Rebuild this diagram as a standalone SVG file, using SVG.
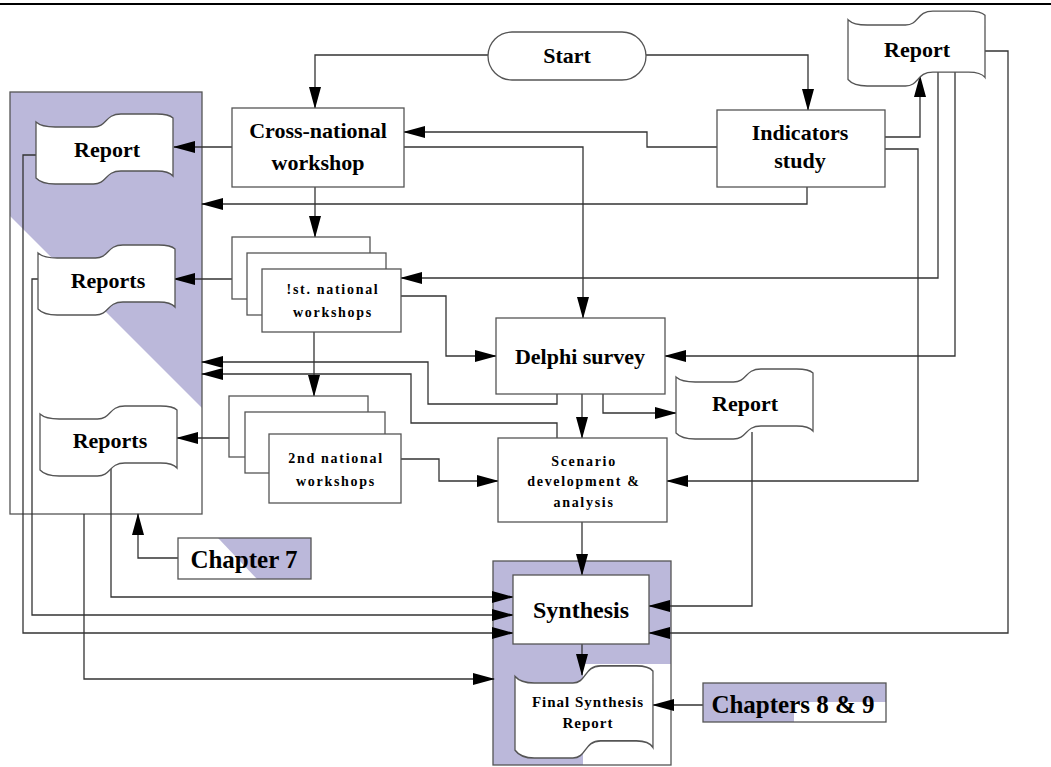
<svg xmlns="http://www.w3.org/2000/svg" width="1051" height="767" viewBox="0 0 1051 767">
<defs>
<style>
.ln{fill:none;stroke:#333;stroke-width:1.3}
.bx{fill:#fff;stroke:#555;stroke-width:1.3}
.ol{fill:none;stroke:#555;stroke-width:1.3}
.pu{fill:#bbb8da}
.doc{fill:#fff;stroke:#555;stroke-width:1.3;vector-effect:non-scaling-stroke}
.t{font-family:"Liberation Serif","Times New Roman",serif;font-weight:bold;fill:#000;text-anchor:middle}
.big{font-size:22px}
.sm{font-size:14px;letter-spacing:1.7px}
.fs{font-size:15px;letter-spacing:1px}
</style>
<marker id="ah" viewBox="0 0 22 12" markerWidth="22" markerHeight="12" refX="21" refY="6" orient="auto" markerUnits="userSpaceOnUse"><path d="M0,0L22,6L0,12z" fill="#000"/></marker>
<path id="tape" d="M0,-5 Q5.5,0 19.2,0 L57.5,0 C71.2,0 68.5,-13 84.9,-13 L120.6,-13 Q132.9,-13 137,-9 L137,49 Q132.9,44 120.6,44 L84.9,44 C68.5,44 71.2,57 57.5,57 L19.2,57 Q5.5,57 0,51 Z"/>
</defs>
<rect width="1051" height="767" fill="#fff"/>
<line x1="0" y1="4" x2="1051" y2="4" stroke="#000" stroke-width="2"/>

<g id="panel-left">
<rect x="10" y="92" width="192" height="422" fill="#fff"/>
<polygon class="pu" points="10,92 202,92 202,408 10,216"/>
<rect class="ol" x="10" y="92" width="192" height="422"/>
</g>
<g id="panel-synthesis">
<rect class="pu" x="493" y="561" width="178" height="204"/>
<rect x="583" y="664" width="88" height="101" fill="#fff"/>
<rect class="ol" x="493" y="561" width="178" height="204"/>
</g>

<g id="connectors" class="ln">
<path d="M488,55 H315 V108" marker-end="url(#ah)"/>
<path d="M646,55 H808 V110" marker-end="url(#ah)"/>
<path d="M232,147 H174" marker-end="url(#ah)"/>
<path d="M717,147 H647 V132 H404" marker-end="url(#ah)"/>
<path d="M404,147 H583 V318" marker-end="url(#ah)"/>
<path d="M807,187 V204 H202" marker-end="url(#ah)"/>
<path d="M315,187 V237" marker-end="url(#ah)"/>
<path d="M232,279 H174" marker-end="url(#ah)"/>
<path d="M885,137 H920 V76" marker-end="url(#ah)"/>
<path d="M885,149 H918 V481 H667" marker-end="url(#ah)"/>
<path d="M938,72 V278 H401" marker-end="url(#ah)"/>
<path d="M955,72 V356 H665" marker-end="url(#ah)"/>
<path d="M985,51 H1008 V633 H649" marker-end="url(#ah)"/>
<path d="M401,296 H446 V356 H496" marker-end="url(#ah)"/>
<path d="M557,394 V404 H428 V362 H202" marker-end="url(#ah)"/>
<path d="M557,438 V423 H411 V374 H202" marker-end="url(#ah)"/>
<path d="M582,394 V438" marker-end="url(#ah)"/>
<path d="M603,394 V413 H676" marker-end="url(#ah)"/>
<path d="M314,332 V396" marker-end="url(#ah)"/>
<path d="M229,438 H177" marker-end="url(#ah)"/>
<path d="M401,459 H439 V481 H498" marker-end="url(#ah)"/>
<path d="M582,522 V575" marker-end="url(#ah)"/>
<path d="M752,432 V606 H649" marker-end="url(#ah)"/>
<path d="M111,467 V597 H513" marker-end="url(#ah)"/>
<path d="M38,279 H32 V615 H513" marker-end="url(#ah)"/>
<path d="M36,155 H23 V633 H513" marker-end="url(#ah)"/>
<path d="M84,514 V679 H494" marker-end="url(#ah)"/>
<path d="M178,558 H138 V514" marker-end="url(#ah)"/>
<path d="M582,644 V675" marker-end="url(#ah)"/>
<path d="M703,705 H653" marker-end="url(#ah)"/>
</g>

<g id="start">
<rect class="bx" x="488" y="32" width="158" height="48" rx="24" ry="24"/>
<text class="t big" x="567" y="63">Start</text>
</g>
<g id="cross-national">
<rect class="bx" x="232" y="108" width="172" height="79"/>
<text class="t big" x="318" y="138">Cross-national</text>
<text class="t big" x="318" y="170">workshop</text>
</g>
<g id="indicators">
<rect class="bx" x="717" y="110" width="168" height="77"/>
<text class="t big" x="800" y="140">Indicators</text>
<text class="t big" x="800" y="168">study</text>
</g>
<g id="report-top">
<use href="#tape" class="doc" transform="translate(848,25) scale(1,1.07)"/>
<text class="t big" x="917" y="57">Report</text>
</g>
<g id="report-left">
<use href="#tape" class="doc" transform="translate(36,127)"/>
<text class="t big" x="107" y="157">Report</text>
</g>
<g id="reports-1">
<use href="#tape" class="doc" transform="translate(38,258)"/>
<text class="t big" x="108" y="288">Reports</text>
</g>
<g id="reports-2">
<use href="#tape" class="doc" transform="translate(40,419)"/>
<text class="t big" x="110" y="448">Reports</text>
</g>
<g id="national-1">
<rect class="bx" x="232" y="237" width="138" height="62"/>
<rect class="bx" x="247" y="253" width="139" height="62"/>
<rect class="bx" x="262" y="269" width="139" height="63"/>
<text class="t sm" x="333" y="294">!st. national</text>
<text class="t sm" x="333" y="317">workshops</text>
</g>
<g id="national-2">
<rect class="bx" x="229" y="396" width="139" height="61"/>
<rect class="bx" x="245" y="412" width="140" height="61"/>
<rect class="bx" x="269" y="434" width="132" height="69"/>
<text class="t sm" x="336" y="463">2nd national</text>
<text class="t sm" x="336" y="486">workshops</text>
</g>
<g id="delphi">
<rect class="bx" x="496" y="318" width="169" height="76"/>
<text class="t big" x="580" y="364">Delphi survey</text>
</g>
<g id="report-mid">
<use href="#tape" class="doc" transform="translate(676,382)"/>
<text class="t big" x="745" y="411">Report</text>
</g>
<g id="scenario">
<rect class="bx" x="498" y="438" width="169" height="84"/>
<text class="t sm" x="584" y="466">Scenario</text>
<text class="t sm" x="584" y="486">development &amp;</text>
<text class="t sm" x="584" y="507">analysis</text>
</g>
<g id="synthesis">
<rect class="bx" x="513" y="575" width="136" height="69"/>
<text class="t" font-size="24" x="581" y="618">Synthesis</text>
</g>
<g id="final-report">
<use href="#tape" class="doc" transform="translate(515,683) scale(1.007,1.316)"/>
<text class="t fs" x="588" y="707">Final Synthesis</text>
<text class="t fs" x="588" y="728">Report</text>
</g>
<g id="chapter-7">
<rect x="178" y="538" width="133" height="41" fill="#fff"/>
<polygon class="pu" points="218,538 311,538 311,579 257,579"/>
<rect class="ol" x="178" y="538" width="133" height="41"/>
<text class="t" font-size="25" x="244" y="568">Chapter 7</text>
</g>
<g id="chapters-8-9">
<rect class="pu" x="703" y="683" width="183" height="39"/>
<rect x="794" y="702" width="92" height="20" fill="#fff"/>
<rect class="ol" x="703" y="683" width="183" height="39"/>
<text class="t" font-size="25" x="793" y="713">Chapters 8 &amp; 9</text>
</g>
</svg>
